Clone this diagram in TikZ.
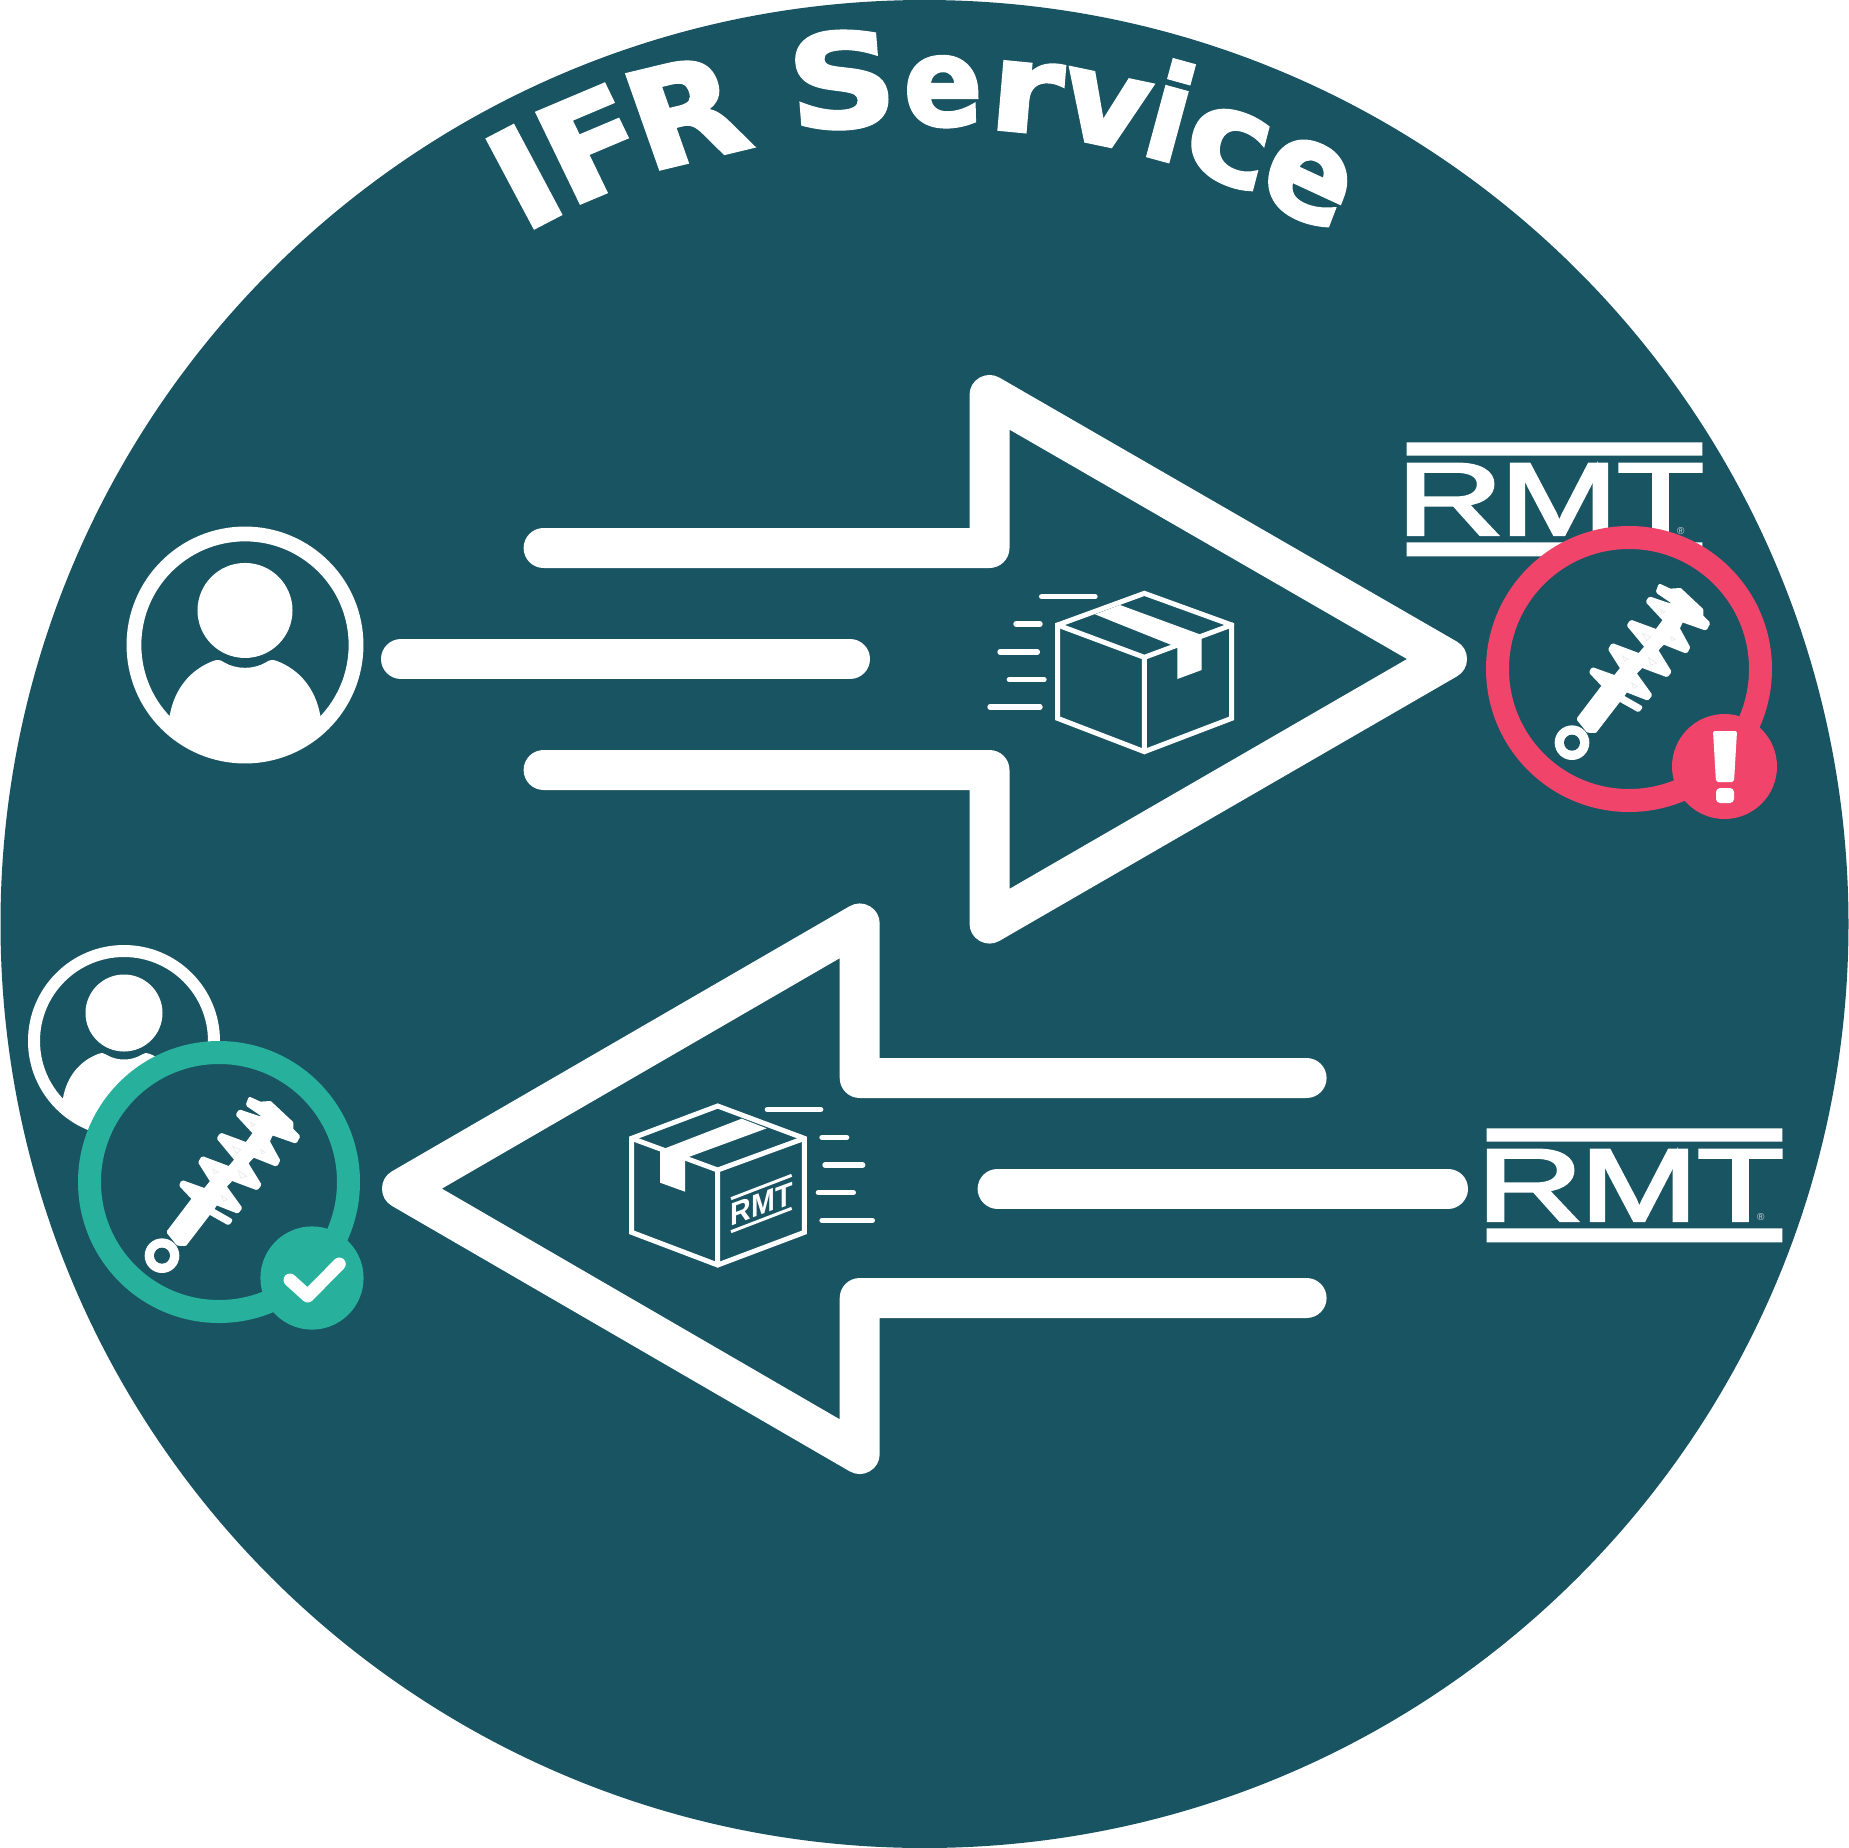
\documentclass[tikz,border=0pt]{standalone}
\usepackage{fontspec}
\newfontfamily\ttl[BoldFeatures={FakeBold=2.5}]{DejaVu Sans}
\newfontfamily\lgo[FakeBold=2.5]{Liberation Sans}
\newfontfamily\lgothin{Liberation Sans}
\definecolor{bg}{HTML}{195462}
\definecolor{pinkc}{HTML}{F0446B}
\definecolor{greenc}{HTML}{27B09B}
\newsavebox\wbox
\newlength\wW
\newlength\wH
% name, text, centre x,y, width vector, height vector (px, y down)
\newcommand\warp[8]{%
  \sbox\wbox{\pgfinterruptpicture#2\endpgfinterruptpicture}\setlength\wW{\wd\wbox}\setlength\wH{\ht\wbox}\addtolength\wH{\dp\wbox}%
  \pgfmathsetmacro\mA{0.5*(#5)/\wW}\pgfmathsetmacro\mB{-0.5*(#6)/\wW}%
  \pgfmathsetmacro\mC{0.5*(#7)/\wH}\pgfmathsetmacro\mD{-0.5*(#8)/\wH}%
  \node[warped,shift={(#3,#4)},cm={\mA,\mB,\mC,\mD,(0,0)}] (#1) at (0,0) {#2};}
\newcommand\insulator[2]{%
  \begin{scope}[shift={(#1,#2)},x=0.16667pt,y=-0.16667pt,shift={(-747,-747)}]
    \fill[white,draw=white,line width=2pt,line join=round]
      (596,897)--(672,797)--(634,757)--(638,748)--(705,772)--(727,745)--(691,688)--(698,676)--(778,706)
      --(800,680)--(747,616)--(754,606)--(830,634)--(855,600)--(804,545)--(810,536)--(875,558)--(878,545)
      --(834,515)--(840,498)--(870,512)--(900,510)--(964,570)--(964,590)--(984,610)--(976,625)--(905,600)
      --(893,625)--(924,682)--(918,694)--(850,667)--(828,690)--(868,755)--(860,765)--(785,737)--(763,760)
      --(810,825)--(802,835)--(738,810)--(725,830)--(781,862)--(775,870)--(718,838)--(645,933)--(624,932)--cycle;
    \fill[white] (576,968) circle[radius=52];
    \fill[bg] (576,968) circle[radius=24];
    \draw[black!8,line width=.35pt] (788,640)--(812,650)--(800,662)--cycle (805,712)--(830,730)--(812,735)--cycle
      (728,708)--(745,718)--(733,722)--cycle (755,788)--(772,800)--(760,804)--cycle
      (842,568)--(855,575)--(845,580)--cycle (872,650)--(885,658)--(875,662)--cycle;
  \end{scope}}
\newcommand\person[3]{%
  \begin{scope}[shift={(#1,#2)},x=#3*0.5pt,y=-#3*0.5pt]
    \draw[white,line width=#3*6pt] (0,0) circle[radius=90];
    \fill[white] (0,-28) circle[radius=38.5];
    \begin{scope}
      \clip (0,0) circle[radius=88];
      \fill[white] (-61,57) .. controls (-57,35) and (-44,20) .. (-26,13)
        .. controls (-22,11.5) and (-20,12) .. (-17,14)
        .. controls (-7,20) and (7,20) .. (17,14)
        .. controls (20,12) and (22,11.5) .. (26,13)
        .. controls (44,20) and (57,35) .. (61,57) -- (61,100) -- (-61,100) -- cycle;
    \end{scope}
  \end{scope}}
\newcommand\logo[2]{%
  \begin{scope}[shift={(#1,#2)}]
    \fill[white] (1486.7,1128.3) rectangle (1782.3,1141.7) (1486.7,1228.3) rectangle (1782.3,1242.3);
    \warp{logoR#1}{\lgo R}{1530}{1185.3}{107}{0}{0}{-71}
    \warp{logoM#1}{\lgo M}{1639}{1185.3}{118}{0}{0}{-71}
    \warp{logoT#1}{\lgo T}{1740.5}{1185.3}{87}{0}{0}{-71}
    \node[warped,scale=1] (logoreg#1) at (1760.7,1217) {\lgothin\fontsize{5pt}{5pt}\selectfont\textcolor{white!80!bg}{®}};
  \end{scope}}
\tikzset{
  warped/.style={inner sep=0pt,outer sep=0pt,anchor=center,transform shape,text=white},
  bigarrow/.style={draw=white,line width=20pt,line cap=round,line join=round},
  boxline/.style={draw=white,line width=2.5pt,line cap=round,line join=miter},
  speed/.style={draw=white,line width=2.7pt,line cap=round},
  ring/.style={line width=11.5pt,fill=bg}
}
\begin{document}
\begin{tikzpicture}[x=0.5pt,y=-0.5pt]
\useasboundingbox (0,0) rectangle (1849,1848);
\fill[white] (0,0) rectangle (1849,1848);
\fill[bg] (924.5,924) circle[radius=924];
% title
\warp{tI}{\ttl\bfseries I}{524}{176.7}{50}{-26}{-47}{-88.3}
\warp{tF}{\ttl\bfseries F}{592}{143.8}{90}{-38}{-43.6}{-90}
\warp{tR}{\ttl\bfseries R}{685}{111.7}{108}{-26}{-33.3}{-94.3}
\warp{tS}{\ttl\bfseries S}{842}{80}{108}{-6}{-7.9}{-97.7}
\warp{te}{\ttl\bfseries e}{943}{91.7}{79}{0}{-1.8}{-70.7}
\warp{tr}{\ttl\bfseries r}{1026}{97}{72}{7}{6}{-69.3}
\warp{tv}{\ttl\bfseries v}{1105}{110}{86}{18}{13.3}{-67.7}
\warp{ti}{\ttl\bfseries i}{1171}{110.7}{40}{11}{26}{-96}
\warp{tc}{\ttl\bfseries c}{1228.6}{146.7}{80}{30}{18.2}{-70}
\warp{te2}{\ttl\bfseries e}{1308}{181.3}{80}{37}{27.3}{-71.7}
% arrows
\draw[bigarrow] (543.6,548)--(989.5,548)--(989.5,395)--(1447,659)--(989.5,923.5)--(989.5,770)--(543.6,770);
\draw[bigarrow] (401,659)--(850,659);
\draw[bigarrow] (1306.6,1078)--(859.7,1078)--(859.7,923.5)--(402,1188.6)--(859.7,1454)--(859.7,1298)--(1306.6,1298);
\draw[bigarrow] (997.6,1188.6)--(1448,1188.6);
% persons
\person{245}{645}{1.234}
\person{124}{1041}{1}
% box 1
\begin{scope}[shift={(960,570)},x=0.16667pt,y=-0.16667pt]
  \draw[boxline] (553,70)--(815,165)--(815,445)--(553,545)--(293,445)--(293,165)--cycle;
  \draw[boxline] (293,165)--(553,262)--(815,165) (553,262)--(553,545);
  \fill[white] (405,133)--(480,105)--(725,195)--(725,300)--(652,327)--(652,232)--cycle;
  \draw[speed] (245,80)--(405,80) (168,162)--(240,162) (120,246)--(232,246) (148,329)--(252,329) (90,411)--(240,411);
\end{scope}
% box 2
\begin{scope}[shift={(610,1090)},x=0.16667pt,y=-0.16667pt]
  \draw[boxline] (323,48)--(583,145)--(583,427)--(323,525)--(65,427)--(65,145)--cycle;
  \draw[boxline] (65,145)--(323,240)--(583,145) (323,240)--(323,525);
  \fill[white] (395,86)--(470,115)--(225,205)--(225,305)--(150,278)--(150,180)--(165,175)--cycle;
  \draw[speed] (472,59)--(632,59) (636,142)--(710,142) (645,225)--(758,225) (625,308)--(730,308) (636,391)--(787,391);
  \draw[draw=white,line width=1.5pt] (363,326)--(545,256) (363,425)--(545,355);
\end{scope}
\warp{boxlogo}{\lgothin\bfseries RMT}{761.7}{1204}{62}{-23}{0}{-22}
% logos
\logo{0}{0}
\logo{-80}{-686}
% pink status
\draw[pinkc,ring] (1629,669) circle[radius=131.5];
\insulator{1629}{669}
\fill[pinkc] (1724.5,766.5) circle[radius=52.5];
\fill[white,rounded corners=1pt] (1713,731)--(1737,731)--(1734,782)--(1716,782)--cycle;
\fill[white,rounded corners=2pt] (1716,788) rectangle (1734,803);
% green status
\draw[greenc,ring] (219,1182) circle[radius=129.5];
\insulator{219}{1182}
\fill[greenc] (312,1278) circle[radius=51.6];
\draw[white,line width=6.5pt,line cap=round,line join=round] (290,1280)--(307.7,1296)--(339.3,1264);
\end{tikzpicture}
\end{document}
